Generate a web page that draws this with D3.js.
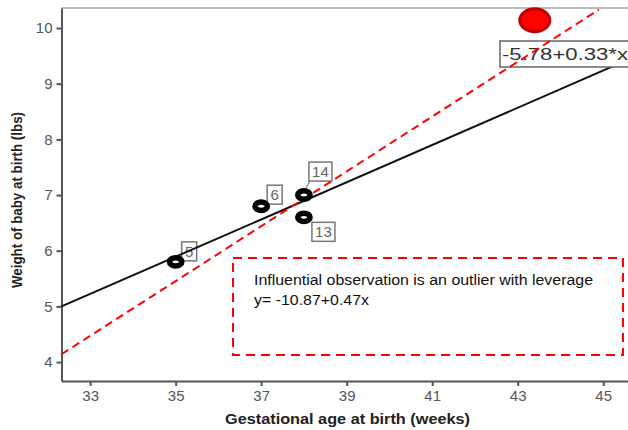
<!DOCTYPE html>
<html>
<head>
<meta charset="utf-8">
<script src="https://cdn.jsdelivr.net/npm/d3@7"></script>
<style>
  body { margin: 0; background: #fff; }
  svg { display: block; font-family: Arial, "Liberation Sans", sans-serif; }
</style>
</head>
<body>
<svg id="chart" width="628" height="430"></svg>
<script>
// data
const points = [
    { id: '5', x: 35, y: 5.8 },
    { id: '6', x: 37, y: 6.8 },
    { id: '14', x: 38, y: 7.0 },
    { id: '13', x: 38, y: 6.6 }
];
const outlier = { x: 43.4, y: 10.14 };
const fitLine = [{ x: 32.33, y: 5.0 }, { x: 45.58, y: 9.43 }];      // without outlier
const fitLineAll = [{ x: 32.33, y: 4.14 }, { x: 44.9, y: 10.33 }];  // with outlier
const xTicks = [33, 35, 37, 39, 41, 43, 45];
const yTicks = [4, 5, 6, 7, 8, 9, 10];
const fitLabel = '-5.78+0.33*x';
const noteLines = ['Influential observation is an outlier with leverage', 'y= -10.87+0.47x'];

const svg = d3.select('#chart');
const plotLeft = 61.5, plotRight = 628, plotTop = 8, plotBottom = 381;

const x = d3.scaleLinear().domain([32.33, 45.58]).range([plotLeft, plotRight]);
const y = d3.scaleLinear().domain([3.66, 10.36]).range([plotBottom, plotTop]);

// top border
svg.append('line')
    .attr('x1', plotLeft).attr('x2', plotRight)
    .attr('y1', plotTop).attr('y2', plotTop)
    .attr('stroke', '#bbb').attr('stroke-width', 2);

const xAxis = svg.append('g')
    .attr('transform', `translate(0,${plotBottom})`)
    .call(d3.axisBottom(x).tickValues(xTicks).tickFormat(d3.format('d'))
        .tickSize(5).tickPadding(4).tickSizeOuter(0));
const yAxis = svg.append('g')
    .attr('transform', `translate(${plotLeft},0)`)
    .call(d3.axisLeft(y).tickValues(yTicks).tickFormat(d3.format('d'))
        .tickSize(5).tickPadding(4).tickSizeOuter(0));

[xAxis, yAxis].forEach(g => {
    g.select('.domain').attr('stroke', '#555').attr('stroke-width', 2);
    g.selectAll('.tick line').attr('stroke', '#555').attr('stroke-width', 2);
    g.selectAll('.tick text')
        .attr('fill', '#555')
        .style('font-size', '15px')
        .style('font-family', 'Arial, "Liberation Sans", sans-serif');
});

svg.append('text')
    .attr('x', 225).attr('y', 424)
    .attr('textLength', 245).attr('lengthAdjust', 'spacingAndGlyphs')
    .style('font-size', '15px').style('font-weight', 'bold')
    .attr('fill', '#222')
    .text('Gestational age at birth (weeks)');

svg.append('text')
    .attr('transform', 'translate(22,288) rotate(-90)')
    .attr('textLength', 176).attr('lengthAdjust', 'spacingAndGlyphs')
    .style('font-size', '15px').style('font-weight', 'bold')
    .attr('fill', '#222')
    .text('Weight of baby at birth (lbs)');

// point labels (drawn under the fit lines, as in the original)
const labelOffsets = { '5': [6, -20], '6': [6, -21], '14': [5, -33], '13': [8, 5] };
points.forEach(p => {
    const [dx, dy] = labelOffsets[p.id];
    const bx = x(p.x) + dx, by = y(p.y) + dy;
    const w = p.id.length > 1 ? 23 : 15;
    if (p.id === '14') {
        svg.append('line')
            .attr('x1', bx + 1).attr('y1', by + 19)
            .attr('x2', x(p.x) + 1).attr('y2', y(p.y) - 5)
            .attr('stroke', '#666').attr('stroke-width', 1);
    }
    svg.append('rect')
        .attr('x', bx).attr('y', by)
        .attr('width', w).attr('height', 19)
        .attr('fill', '#fff').attr('stroke', '#777').attr('stroke-width', 1.5);
    svg.append('text')
        .attr('x', bx + w / 2).attr('y', by + 15)
        .attr('text-anchor', 'middle')
        .style('font-size', '15px')
        .attr('fill', '#666')
        .text(p.id);
});

const line = d3.line().x(d => x(d.x)).y(d => y(d.y));

// fit without outlier
svg.append('path')
    .datum(fitLine)
    .attr('d', line)
    .attr('fill', 'none')
    .attr('stroke', '#111')
    .attr('stroke-width', 2);

// fit label box
const lbl = svg.append('g').attr('transform', 'translate(500,41)');
lbl.append('rect')
    .attr('width', 140).attr('height', 26)
    .attr('fill', '#fff').attr('stroke', '#666').attr('stroke-width', 1.5);
lbl.append('text')
    .attr('x', 2).attr('y', 19)
    .attr('textLength', 126).attr('lengthAdjust', 'spacingAndGlyphs')
    .style('font-size', '17px')
    .attr('fill', '#333')
    .text(fitLabel);

// fit with outlier
svg.append('path')
    .datum(fitLineAll)
    .attr('d', line)
    .attr('fill', 'none')
    .attr('stroke', '#f00')
    .attr('stroke-width', 2)
    .attr('stroke-dasharray', '8,5');

// points as rings
svg.append('g')
    .selectAll('ellipse')
    .data(points)
    .join('ellipse')
    .attr('cx', d => x(d.x))
    .attr('cy', d => y(d.y))
    .attr('rx', 6.2).attr('ry', 4.2)
    .attr('fill', '#fff')
    .attr('stroke', '#000')
    .attr('stroke-width', 5.5);

// the outlier
svg.append('ellipse')
    .attr('cx', x(outlier.x)).attr('cy', y(outlier.y))
    .attr('rx', 15).attr('ry', 11.5)
    .attr('fill', '#ff0000')
    .attr('stroke', '#c00000')
    .attr('stroke-width', 3);

// annotation box
svg.append('rect')
    .attr('x', 233).attr('y', 258)
    .attr('width', 390).attr('height', 97)
    .attr('fill', 'none')
    .attr('stroke', '#f00').attr('stroke-width', 2)
    .attr('stroke-dasharray', '9,6');

const noteWidths = [339, 115];
svg.append('g')
    .selectAll('text')
    .data(noteLines)
    .join('text')
    .attr('x', 254)
    .attr('y', (d, i) => 285 + i * 20)
    .attr('textLength', (d, i) => noteWidths[i]).attr('lengthAdjust', 'spacingAndGlyphs')
    .style('font-size', '15.5px')
    .attr('fill', '#111')
    .text(d => d);
</script>
</body>
</html>
